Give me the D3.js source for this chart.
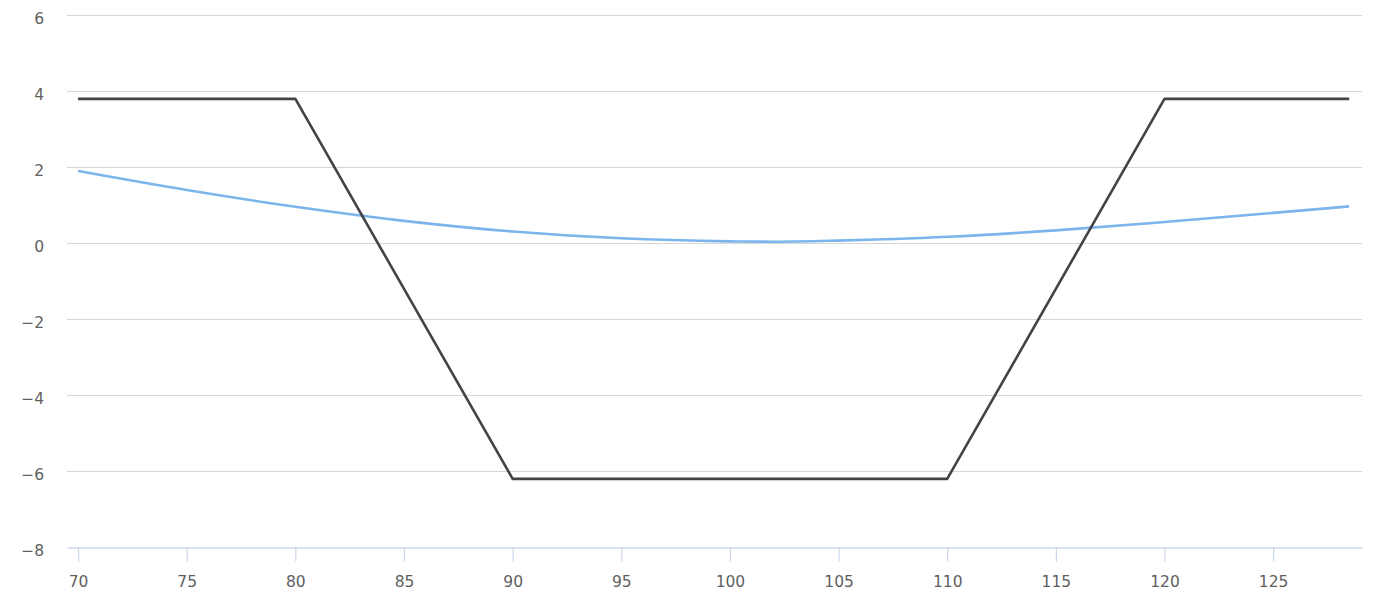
<!DOCTYPE html>
<html>
<head>
<meta charset="utf-8">
<script src="https://cdn.jsdelivr.net/npm/d3@7"></script>
<style>
  body { margin: 0; background: #fff; }
  svg { display: block; }
</style>
</head>
<body>
<div id="chart"></div>
<script>
// payoff at expiry (black) and curve (blue), price on x
const payoffX = [70, 80, 90, 110, 120, 128.5];
const payoffY = [3.78, 3.78, -6.22, -6.22, 3.78, 3.78];

const curveX = [70, 75, 80, 85, 90, 95, 100, 102, 105, 110, 115, 120, 125, 128.5];
const curveY = [1.88, 1.38, 0.94, 0.57, 0.29, 0.11, 0.03, 0.02, 0.05, 0.15, 0.32, 0.54, 0.78, 0.95];

const yTicks = [-8, -6, -4, -2, 0, 2, 4, 6];
const xTicks = [70, 75, 80, 85, 90, 95, 100, 105, 110, 115, 120, 125];

const width = 1384;
const height = 594;

const x = d3.scaleLinear()
    .domain([69.49, 129.09])
    .range([67, 1362]);

const y = d3.scaleLinear()
    .domain([-8, 6])
    .range([546.5, 14.5]);

const svg = d3.select('#chart')
  .append('svg')
    .attr('width', width)
    .attr('height', height)
    .attr('font-family', '"DejaVu Sans", sans-serif');

// horizontal grid
svg.append('g')
  .selectAll()
  .data(yTicks.filter(d => d !== -8))
  .join('line')
    .attr('x1', 67)
    .attr('x2', 1362)
    .attr('y1', d => Math.round(y(d)) + 0.5)
    .attr('y2', d => Math.round(y(d)) + 0.5)
    .attr('stroke', '#d6d6d6')
    .attr('stroke-width', 1.2);

// y labels
svg.append('g')
    .attr('font-size', 15.5)
    .attr('fill', '#5f5f5f')
    .attr('text-anchor', 'end')
  .selectAll()
  .data(yTicks)
  .join('text')
    .attr('x', 44)
    .attr('y', d => y(d) + 9)
    .text(d => d < 0 ? '\u2212' + Math.abs(d) : d);

// x axis
const xAxis = d3.axisBottom(x)
    .tickValues(xTicks)
    .tickSize(14)
    .tickSizeOuter(0)
    .tickPadding(14);

svg.append('g')
    .attr('transform', `translate(0,${Math.round(y(-8)) + 0.5})`)
    .call(xAxis)
    .call(g => g.select('.domain').attr('stroke', '#ccd6eb').attr('stroke-width', 1.5))
    .call(g => g.selectAll('.tick line').attr('stroke', '#ccd6eb').attr('stroke-width', 1.2))
    .call(g => g.selectAll('.tick text')
        .attr('font-family', '"DejaVu Sans", sans-serif')
        .attr('font-size', 15.5)
        .attr('fill', '#5f5f5f'));

const line = d3.line()
    .x(d => x(d[0]))
    .y(d => y(d[1]));

svg.append('path')
    .datum(d3.zip(curveX, curveY))
    .attr('fill', 'none')
    .attr('stroke', '#7cb5ec')
    .attr('stroke-width', 2.6)
    .attr('stroke-linejoin', 'round')
    .attr('d', line.curve(d3.curveMonotoneX));

svg.append('path')
    .datum(d3.zip(payoffX, payoffY))
    .attr('fill', 'none')
    .attr('stroke', '#434348')
    .attr('stroke-width', 2.6)
    .attr('stroke-linejoin', 'round')
    .attr('d', line.curve(d3.curveLinear));
</script>
</body>
</html>
